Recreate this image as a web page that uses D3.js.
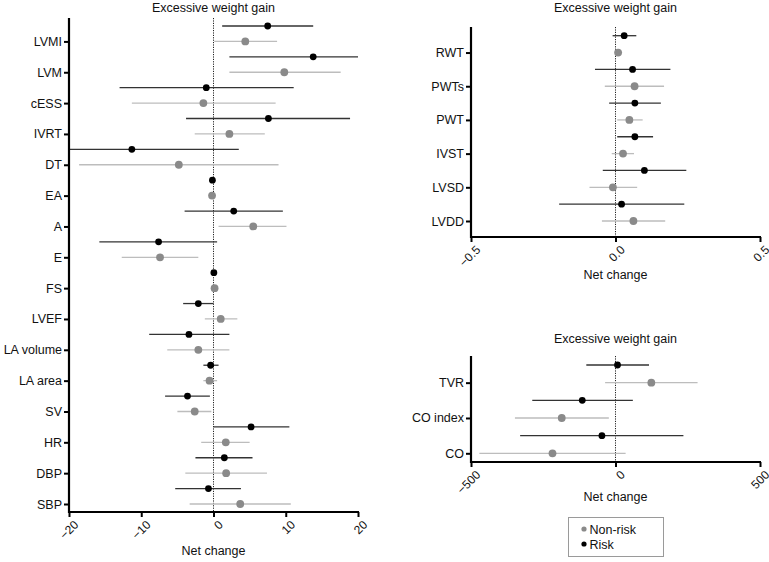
<!DOCTYPE html>
<html><head><meta charset="utf-8">
<script src="https://cdn.jsdelivr.net/npm/d3@7"></script>
<style>body{margin:0;background:#fff}svg{display:block;font-family:"Liberation Sans",Arial,sans-serif}</style>
</head><body><svg id="c" width="769" height="562"></svg>
<script>
// ---------- Data ----------
const leftCategories = ["LVMI","LVM","cESS","IVRT","DT","EA","A","E","FS","LVEF","LA volume","LA area","SV","HR","DBP","SBP"];
const leftRiskMean = [7.5,13.8,-1.0,7.6,-11.3,-0.15,2.8,-7.6,0.05,-2.1,-3.4,-0.4,-3.6,5.2,1.5,-0.7];
const leftRiskLow  = [1.2,2.2,-13.0,-3.8,-21,-0.3,-4.0,-15.8,-0.1,-4.2,-8.9,-1.4,-6.7,0.0,-2.5,-5.3];
const leftRiskHigh = [13.8,20.5,11.1,18.9,3.5,0.0,9.6,0.5,0.2,0.0,2.2,0.7,-0.5,10.5,5.4,3.8];
const leftNonMean  = [4.4,9.8,-1.4,2.2,-4.8,-0.2,5.5,-7.4,0.15,1.0,-2.1,-0.55,-2.6,1.7,1.75,3.7];
const leftNonLow   = [0.1,2.2,-11.3,-2.6,-18.6,-0.35,0.7,-12.7,0.0,-1.2,-6.4,-1.4,-5.0,-1.7,-3.9,-3.3];
const leftNonHigh  = [8.8,17.6,8.6,7.1,9.0,-0.05,10.1,-2.1,0.3,3.3,2.2,0.5,-0.3,5.0,7.4,10.7];
const leftTicks = [-20,-10,0,10,20];

const rtCategories = ["RWT","PWTs","PWT","IVST","LVSD","LVDD"];
const rtRiskMean = [0.030,0.059,0.067,0.067,0.100,0.021];
const rtRiskLow  = [-0.010,-0.071,-0.022,0.006,-0.044,-0.195];
const rtRiskHigh = [0.072,0.190,0.157,0.130,0.245,0.238];
const rtNonMean  = [0.009,0.066,0.048,0.026,-0.009,0.062];
const rtNonLow   = [-0.001,-0.037,0.006,-0.013,-0.090,-0.047];
const rtNonHigh  = [0.023,0.168,0.094,0.064,0.075,0.172];
const rtTicks = [-0.5,0.0,0.5];

const rbCategories = ["TVR","CO index","CO"];
const rbRiskMean = [7,-115,-47];
const rbRiskLow  = [-101,-288,-330];
const rbRiskHigh = [116,60,235];
const rbNonMean  = [124,-186,-218];
const rbNonLow   = [-36,-348,-471];
const rbNonHigh  = [284,-23,35];
const rbTicks = [-500,0,500];

const titleText = "Excessive weight gain";
const xLabelText = "Net change";
const legendLabels = ["Non-risk","Risk"];

// ---------- Drawing ----------
const svg = d3.select("#c");
const RISK_DOT = "#000", RISK_LINE = "#333", NON_DOT = "#8a8a8a", NON_LINE = "#bdbdbd";

function panel(cfg) {
  const g = svg.append("g");
  const rows = [];
  cfg.cats.forEach((c, i) => {
    rows.push({key: c + "|r", cat: c, type: "risk", m: cfg.rm[i], lo: cfg.rl[i], hi: cfg.rh[i]});
    rows.push({key: c + "|n", cat: c, type: "non", m: cfg.nm[i], lo: cfg.nl[i], hi: cfg.nh[i]});
  });
  const x = d3.scaleLinear().domain(cfg.domain).range([cfg.x0, cfg.x1]).clamp(true);
  const y = d3.scalePoint().domain(rows.map(d => d.key)).range([cfg.yFirst, cfg.yLast]);

  g.append("line").attr("x1", x(0)).attr("x2", x(0)).attr("y1", cfg.yTop).attr("y2", cfg.yBottom)
    .attr("stroke", "#222").attr("stroke-width", 1).attr("stroke-dasharray", "1.2,1.2");

  g.selectAll("line.eb").data(rows).join("line").attr("class", "eb")
    .attr("x1", d => x(d.lo)).attr("x2", d => x(d.hi))
    .attr("y1", d => y(d.key)).attr("y2", d => y(d.key))
    .attr("stroke", d => d.type === "risk" ? RISK_LINE : NON_LINE).attr("stroke-width", 1.3);
  g.selectAll("circle.pt").data(rows).join("circle").attr("class", "pt")
    .attr("cx", d => x(d.m)).attr("cy", d => y(d.key))
    .attr("r", d => d.type === "risk" ? 3.4 : 3.9)
    .attr("fill", d => d.type === "risk" ? RISK_DOT : NON_DOT);

  const ya = d3.axisLeft(y).tickValues(rows.filter(d => d.type === "non").map(d => d.key))
    .tickFormat(k => k.split("|")[0]).tickSize(5).tickPadding(2);
  const yg = g.append("g").attr("transform", `translate(${cfg.x0},0)`).call(ya);
  yg.select(".domain").remove();
  yg.selectAll(".tick line").attr("stroke", "#000").attr("stroke-width", 2);
  yg.selectAll(".tick text").attr("font-size", 12.5).attr("fill", "#111")
    .attr("font-family", "'Liberation Sans',Arial,sans-serif");
  g.append("line").attr("x1", cfg.x0).attr("x2", cfg.x0).attr("y1", cfg.yTop).attr("y2", cfg.yBottom + 1)
    .attr("stroke", "#000").attr("stroke-width", 2.2);

  const xa = d3.axisBottom(x).tickValues(cfg.ticks).tickSize(5).tickPadding(3)
    .tickFormat(cfg.fmt);
  const xg = g.append("g").attr("transform", `translate(0,${cfg.yBottom})`).call(xa);
  xg.select(".domain").remove();
  xg.selectAll(".tick line").attr("stroke", "#000").attr("stroke-width", 2);
  xg.selectAll(".tick text").attr("font-size", 12).attr("fill", "#111")
    .attr("font-family", "'Liberation Sans',Arial,sans-serif")
    .attr("text-anchor", "end").attr("dy", "0.35em")
    .attr("transform", "translate(1,5) rotate(-45)");
  g.append("line").attr("x1", cfg.x0 - 1).attr("x2", cfg.x1 + 1).attr("y1", cfg.yBottom).attr("y2", cfg.yBottom)
    .attr("stroke", "#000").attr("stroke-width", 2.2);

  const cx = x(0);
  g.append("text").attr("x", cx).attr("y", cfg.titleY).attr("text-anchor", "middle")
    .attr("font-size", 12.5).attr("fill", "#111").text(titleText);
  g.append("text").attr("x", cx).attr("y", cfg.labelY).attr("text-anchor", "middle")
    .attr("font-size", 12.5).attr("fill", "#111").text(xLabelText);
}

panel({cats: leftCategories, rm: leftRiskMean, rl: leftRiskLow, rh: leftRiskHigh,
  nm: leftNonMean, nl: leftNonLow, nh: leftNonHigh, domain: [-20, 20], ticks: leftTicks,
  fmt: d3.format("d"), x0: 69, x1: 358, yTop: 18, yBottom: 512, yFirst: 26, yLast: 504,
  titleY: 12, labelY: 555});

panel({cats: rtCategories, rm: rtRiskMean, rl: rtRiskLow, rh: rtRiskHigh,
  nm: rtNonMean, nl: rtNonLow, nh: rtNonHigh, domain: [-0.5, 0.5], ticks: rtTicks,
  fmt: d3.format(".1f"), x0: 471, x1: 760, yTop: 27, yBottom: 237, yFirst: 35.7, yLast: 221,
  titleY: 12, labelY: 279});

panel({cats: rbCategories, rm: rbRiskMean, rl: rbRiskLow, rh: rbRiskHigh,
  nm: rbNonMean, nl: rbNonLow, nh: rbNonHigh, domain: [-500, 500], ticks: rbTicks,
  fmt: d3.format("d"), x0: 471, x1: 760, yTop: 356, yBottom: 462, yFirst: 365, yLast: 453.3,
  titleY: 343, labelY: 501});

const lg = svg.append("g");
lg.append("rect").attr("x", 568.5).attr("y", 517.5).attr("width", 95).attr("height", 39)
  .attr("fill", "#fff").attr("stroke", "#9a9a9a").attr("stroke-width", 1);
const legendColors = [NON_DOT, RISK_DOT];
legendLabels.forEach((t, i) => {
  const yy = 529 + i * 15;
  lg.append("circle").attr("cx", 584).attr("cy", yy).attr("r", 2.6).attr("fill", legendColors[i]);
  lg.append("text").attr("x", 589.5).attr("y", yy + 4.5).attr("font-size", 12.5).attr("fill", "#111").text(t);
});
</script></body></html>
